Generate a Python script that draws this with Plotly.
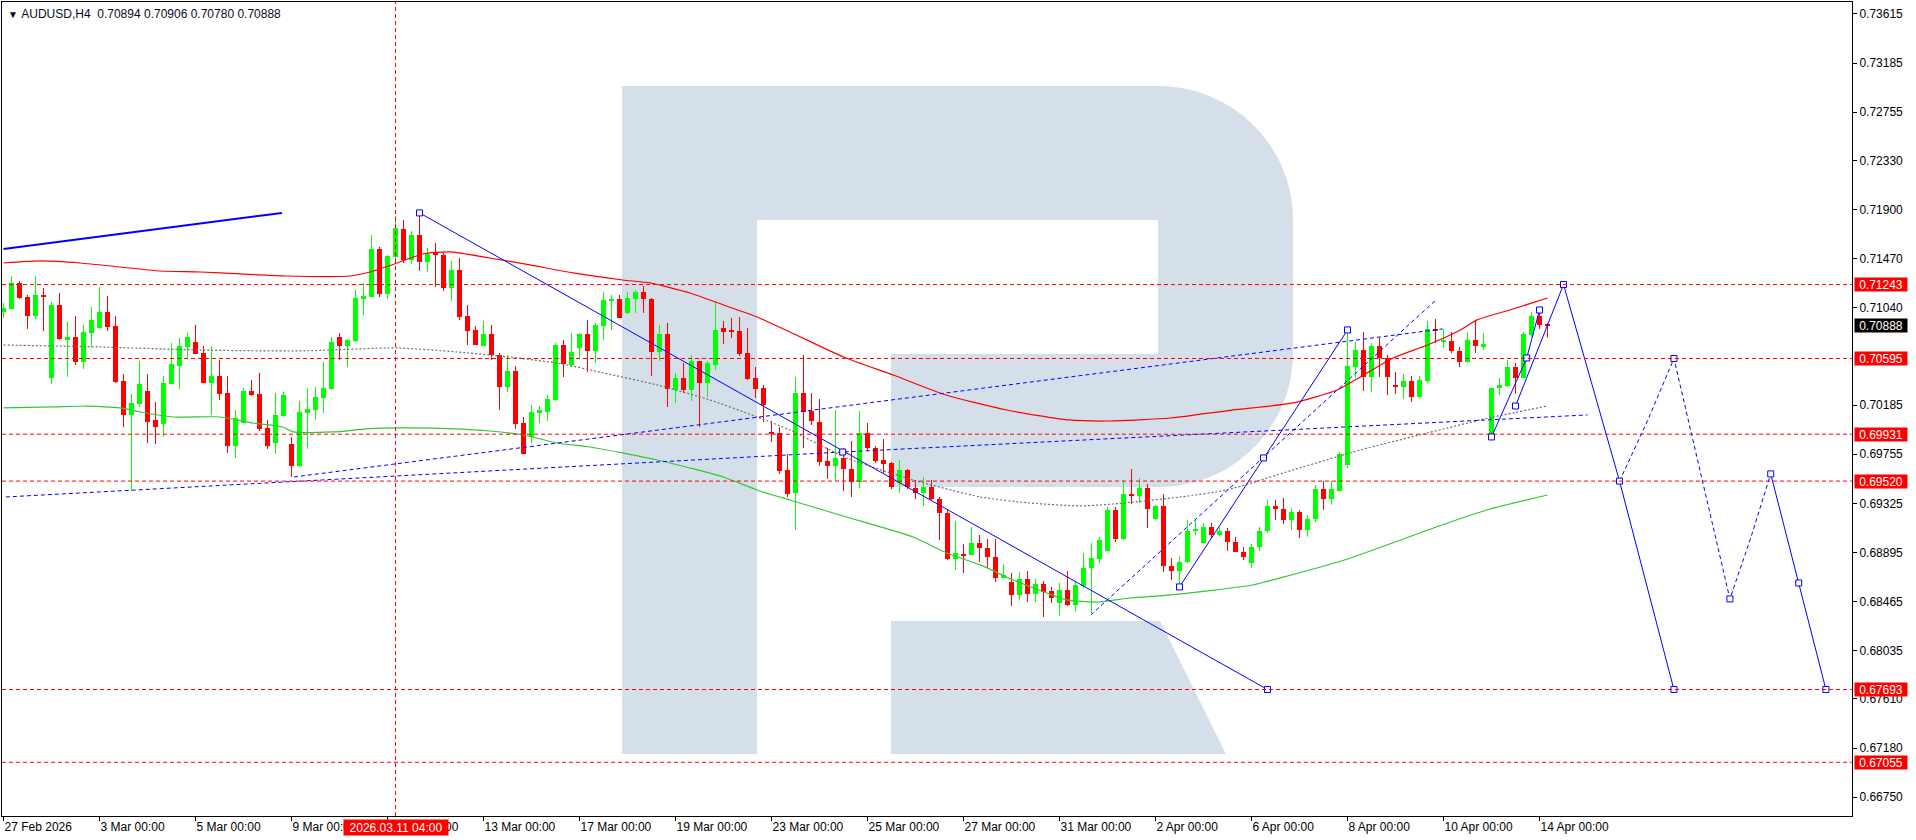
import plotly.graph_objects as go

# ---------------- data ----------------
opens = [0.71003,0.71029,0.71257,0.71134,0.70968,0.71152,0.70424,0.71064,0.70757,0.70783,
0.70564,0.70818,0.70862,0.71003,0.70880,0.70398,0.70100,0.70196,0.70310,0.70056,
0.70021,0.70371,0.70529,0.70696,0.70740,0.70643,0.70380,0.70441,0.70292,0.69828,
0.70029,0.70310,0.70284,0.69986,0.69854,0.70091,0.69845,0.69653,0.70117,0.70143,
0.70249,0.70327,0.70783,0.70704,0.70748,0.71117,0.71134,0.71555,0.71160,0.71485,
0.71730,0.71459,0.71678,0.71441,0.71520,0.71502,0.71213,0.71371,0.70968,0.70845,
0.70704,0.70810,0.70626,0.70345,0.70485,0.70029,0.69907,0.70117,0.70126,0.70231,
0.70713,0.70538,0.70687,0.70810,0.70661,0.70880,0.71099,0.71117,0.70994,0.71117,
0.71178,0.71117,0.70652,0.70810,0.70319,0.70424,0.70319,0.70573,0.70380,0.70538,
0.70862,0.70836,0.70836,0.70643,0.70424,0.70336,0.69951,0.69942,0.69618,0.69416,
0.70292,0.70135,0.70038,0.69696,0.69653,0.69723,0.69626,0.69512,0.69942,0.69810,
0.69705,0.69679,0.69504,0.69618,0.69460,0.69416,0.69469,0.69363,0.69240,0.68837,
0.68881,0.68872,0.68977,0.68934,0.68855,0.68671,0.68636,0.68522,0.68662,0.68530,
0.68618,0.68557,0.68452,0.68566,0.68434,0.68601,0.68758,0.68837,0.68907,0.69267,
0.69013,0.69407,0.69390,0.69460,0.69188,0.69302,0.68776,0.68732,0.68811,0.69083,
0.68977,0.69118,0.69048,0.69083,0.68986,0.68899,0.68802,0.68942,0.69083,0.69302,
0.69275,0.69179,0.69249,0.69091,0.69188,0.69451,0.69363,0.69434,0.69661,0.70520,
0.70669,0.70433,0.70704,0.70599,0.70363,0.70345,0.70398,0.70257,0.70398,0.70854,
0.70740,0.70748,0.70661,0.70564,0.70757,0.70696,0.69924,0.70336,0.70354,0.70520,
0.70424,0.70801,0.70968,0.70894]

highs = [0.71082,0.71318,0.71274,0.71152,0.71318,0.71213,0.71090,0.71169,0.70915,0.70968,
0.70889,0.71046,0.71222,0.71143,0.70968,0.70459,0.70284,0.70573,0.70459,0.70213,
0.70441,0.70731,0.70775,0.70827,0.70889,0.70704,0.70704,0.70582,0.70441,0.70143,
0.70336,0.70406,0.70468,0.70056,0.70292,0.70301,0.69907,0.70222,0.70336,0.70345,
0.70564,0.70783,0.70818,0.70766,0.71196,0.71257,0.71678,0.71573,0.71502,0.71844,
0.71809,0.71713,0.71871,0.71564,0.71608,0.71520,0.71450,0.71476,0.71064,0.70880,
0.70924,0.70889,0.70643,0.70626,0.70529,0.70082,0.70187,0.70178,0.70275,0.70731,
0.70757,0.70818,0.70818,0.70933,0.70906,0.71178,0.71152,0.71152,0.71178,0.71196,
0.71231,0.71125,0.70889,0.70906,0.70468,0.70555,0.70626,0.70573,0.70573,0.71090,
0.70924,0.70950,0.70959,0.70862,0.70520,0.70363,0.70047,0.69994,0.69758,0.70433,
0.70626,0.70292,0.70240,0.69810,0.70143,0.69810,0.69872,0.70135,0.70029,0.69828,
0.69889,0.69688,0.69705,0.69626,0.69512,0.69556,0.69530,0.69381,0.69275,0.69170,
0.68969,0.69118,0.69048,0.69013,0.69013,0.68793,0.68715,0.68723,0.68732,0.68662,
0.68644,0.68592,0.68627,0.68732,0.68636,0.68890,0.68977,0.69030,0.69293,0.69293,
0.69521,0.69626,0.69547,0.69495,0.69311,0.69407,0.68846,0.68864,0.69179,0.69179,
0.69153,0.69153,0.69118,0.69109,0.69030,0.68942,0.68969,0.69118,0.69354,0.69354,
0.69372,0.69284,0.69267,0.69223,0.69486,0.69521,0.69521,0.69775,0.70845,0.70740,
0.70827,0.70731,0.70775,0.70626,0.70476,0.70459,0.70441,0.70441,0.70924,0.70941,
0.70854,0.70827,0.70696,0.70827,0.70924,0.70818,0.70336,0.70424,0.70582,0.70555,
0.70827,0.71003,0.71003,0.70906]

lows = [0.70950,0.71029,0.71117,0.70854,0.70941,0.70836,0.70371,0.70757,0.70433,0.70538,
0.70503,0.70696,0.70862,0.70836,0.70380,0.69994,0.69434,0.70170,0.69854,0.69845,
0.69907,0.70371,0.70327,0.70599,0.70634,0.70380,0.70100,0.70231,0.69767,0.69723,
0.70029,0.70266,0.69959,0.69802,0.69758,0.70082,0.69556,0.69644,0.69802,0.70056,
0.70117,0.70319,0.70582,0.70520,0.70740,0.70976,0.71134,0.71134,0.71117,0.71441,
0.71432,0.71424,0.71362,0.71353,0.71222,0.71187,0.71099,0.70933,0.70713,0.70713,
0.70704,0.70582,0.70143,0.70301,0.69977,0.69758,0.69854,0.70029,0.70047,0.70222,
0.70433,0.70520,0.70590,0.70476,0.70555,0.70757,0.70845,0.70950,0.70985,0.70994,
0.70994,0.70441,0.70573,0.70170,0.70205,0.70292,0.70222,0.69994,0.70257,0.70494,
0.70722,0.70775,0.70617,0.70406,0.70249,0.70038,0.69863,0.69583,0.69381,0.69091,
0.69810,0.70012,0.69653,0.69539,0.69521,0.69434,0.69381,0.69460,0.69784,0.69679,
0.69591,0.69451,0.69416,0.69451,0.69363,0.69302,0.69346,0.69004,0.68828,0.68741,
0.68715,0.68872,0.68811,0.68758,0.68636,0.68662,0.68425,0.68478,0.68460,0.68460,
0.68329,0.68452,0.68338,0.68425,0.68373,0.68583,0.68364,0.68802,0.68907,0.68986,
0.69004,0.69319,0.69328,0.69109,0.69179,0.68723,0.68653,0.68601,0.68802,0.69048,
0.68977,0.69021,0.69039,0.68907,0.68899,0.68828,0.68758,0.68907,0.69065,0.69179,
0.69144,0.69091,0.69021,0.69039,0.69162,0.69267,0.69311,0.69434,0.69635,0.70424,
0.70310,0.70301,0.70433,0.70275,0.70284,0.70240,0.70213,0.70249,0.70380,0.70731,
0.70687,0.70643,0.70520,0.70555,0.70643,0.70669,0.69924,0.70275,0.70345,0.70284,
0.70424,0.70783,0.70854,0.70780]

closes = [0.71038,0.71257,0.71125,0.70968,0.71152,0.71134,0.71064,0.70766,0.70783,0.70564,
0.70827,0.70933,0.71003,0.70871,0.70389,0.70100,0.70205,0.70371,0.70038,0.69994,
0.70380,0.70547,0.70704,0.70783,0.70634,0.70380,0.70441,0.70284,0.69828,0.70073,
0.70310,0.70275,0.69977,0.69828,0.70100,0.70275,0.69653,0.70126,0.70152,0.70257,
0.70336,0.70740,0.70704,0.70757,0.71125,0.71143,0.71555,0.71160,0.71494,0.71739,
0.71459,0.71678,0.71441,0.71511,0.71502,0.71213,0.71371,0.70959,0.70836,0.70713,
0.70810,0.70626,0.70345,0.70485,0.70021,0.69758,0.70126,0.70143,0.70240,0.70713,
0.70547,0.70652,0.70810,0.70661,0.70889,0.71108,0.71117,0.70950,0.71125,0.71178,
0.71117,0.70652,0.70810,0.70327,0.70424,0.70319,0.70573,0.70380,0.70555,0.70845,
0.70827,0.70827,0.70634,0.70415,0.70327,0.70187,0.69933,0.69609,0.69407,0.70292,
0.70126,0.70047,0.69688,0.69653,0.69723,0.69626,0.69512,0.69942,0.69810,0.69696,
0.69670,0.69469,0.69618,0.69469,0.69416,0.69469,0.69363,0.69240,0.68837,0.68890,
0.68872,0.68977,0.68934,0.68855,0.68671,0.68697,0.68522,0.68662,0.68530,0.68618,
0.68548,0.68495,0.68566,0.68434,0.68609,0.68758,0.68846,0.69004,0.69267,0.69013,
0.69407,0.69398,0.69460,0.69275,0.69302,0.68776,0.68732,0.68811,0.69083,0.69100,
0.69118,0.69048,0.69083,0.68986,0.68899,0.68855,0.68942,0.69083,0.69302,0.69275,
0.69179,0.69249,0.69091,0.69188,0.69451,0.69363,0.69451,0.69758,0.70529,0.70669,
0.70433,0.70704,0.70599,0.70433,0.70345,0.70398,0.70257,0.70406,0.70854,0.70836,
0.70748,0.70661,0.70564,0.70757,0.70704,0.70722,0.70336,0.70363,0.70520,0.70424,
0.70810,0.70968,0.70889,0.70888]

# moving averages (sampled along the drawn curves: bar index, price)
red_ma_x = [0, 4.6, 9.6, 14.6, 19.6, 24.6, 29.6, 35.4, 43.3, 45.8, 49.2, 52.4, 55.8, 60.8, 65.8, 71.2,
            77.4, 80.8, 85.8, 90, 94.2, 98.3, 105, 111.2, 117.8, 125.4, 133.2, 138.2, 145.9, 153.6,
            161.2, 166.7, 169.6, 173.7, 178, 182.1, 184.2, 188.3, 193]
red_ma_y = [0.71432, 0.71450, 0.71432, 0.71397, 0.71362, 0.71353, 0.71336, 0.71318, 0.71318, 0.71353,
            0.71432, 0.71511, 0.71529, 0.71476, 0.71415, 0.71345, 0.71283, 0.71257, 0.71169, 0.71064,
            0.70959, 0.70827, 0.70608, 0.70450, 0.70275, 0.70143, 0.70056, 0.70047, 0.70073, 0.70143,
            0.70205, 0.70319, 0.70433, 0.70599, 0.70713, 0.70845, 0.70933, 0.71020, 0.71125]
gray_ma_x = [0, 12, 24.6, 37, 49.2, 56.7, 62, 69.2, 75, 81.7, 88.3, 94.2, 98.3, 105.4, 113.7, 122.1,
             128.3, 134.6, 138.7, 147.1, 152.9, 161.2, 169.6, 178, 186.2, 193]
gray_ma_y = [0.70713, 0.70696, 0.70669, 0.70661, 0.70687, 0.70652, 0.70617, 0.70555, 0.70468, 0.70363,
             0.70231, 0.70082, 0.69968, 0.69723, 0.69530, 0.69381, 0.69328, 0.69302, 0.69319, 0.69381,
             0.69442, 0.69618, 0.69793, 0.69942, 0.70082, 0.70178]
green_ma_x = [0, 6.2, 10.4, 14.6, 17.1, 21.2, 27.1, 31.2, 34.9, 36.2, 41.2, 45.4, 49.6, 56.7, 60.8, 65,
              69.2, 73.3, 77.4, 81.7, 85.8, 90, 94.2, 98.3, 105.4, 113.7, 117.9, 122.1, 126.2, 130.4,
              132.9, 136.7, 140.8, 145.9, 156.1, 159.6, 167.6, 179.8, 185.8, 193]
green_ma_y = [0.70161, 0.70170, 0.70178, 0.70161, 0.70126, 0.70082, 0.70082, 0.70029, 0.69994, 0.69951,
              0.69951, 0.69977, 0.69986, 0.69977, 0.69959, 0.69924, 0.69854, 0.69819, 0.69767, 0.69705,
              0.69635, 0.69556, 0.69442, 0.69354, 0.69205, 0.69030, 0.68890, 0.68785, 0.68653, 0.68539,
              0.68478, 0.68460, 0.68495, 0.68522, 0.68609, 0.68671, 0.68828, 0.69135, 0.69275, 0.69398]

# horizontal levels
level_prices = [0.71243, 0.70595, 0.69931, 0.69520, 0.67693, 0.67055]
last_price = 0.70888
cross_bar = 49
cross_label = "2026.03.11 04:00"

# drawn objects (bar index, price)
tl_top_x = [0, 34.8];               tl_top_y = [0.71555, 0.71871]
tl_down_x = [52, 158];              tl_down_y = [0.71871, 0.67693]
dot1_x = [0.3, 104.9, 198];         dot1_y = [0.69381, 0.69775, 0.70100]
dot2_x = [36.3, 179.9];             dot2_y = [0.69556, 0.70854]
dash_up_x = [135.9, 179.2];         dash_up_y = [0.68346, 0.71117]
solid_up_x = [147, 157.5, 168];     solid_up_y = [0.68592, 0.69723, 0.70845]
line_a_x = [186, 190.4, 192];       line_a_y = [0.69907, 0.70599, 0.71020]
line_b_x = [189, 195];              line_b_y = [0.70178, 0.71243]
fc1_x = [195, 202, 208.8];          fc1_y = [0.71243, 0.69520, 0.67693]
fc_dash_x = [202, 205.6, 208.8, 215.8, 218.4, 220.9]
fc_dash_y = [0.69520, 0.70065, 0.70595, 0.68487, 0.69021, 0.69583]
fc2_x = [220.9, 224.4, 227.8];      fc2_y = [0.69583, 0.68627, 0.67693]
sq_x = [52, 158, 104.9, 147, 157.5, 168, 186, 190.4, 192, 189, 195, 202, 208.8, 208.8, 215.8, 220.9, 224.4, 227.8]
sq_y = [0.71871, 0.67693, 0.69775, 0.68592, 0.69723, 0.70845, 0.69907, 0.70599, 0.71020, 0.70178,
        0.71243, 0.69520, 0.67693, 0.70595, 0.68487, 0.69583, 0.68627, 0.67693]

# axes
x_tick_bars = [0, 12, 24, 36, 48, 60, 72, 84, 96, 108, 120, 132, 144, 156, 168, 180, 192]
x_tick_labels = ["27 Feb 2026", "3 Mar 00:00", "5 Mar 00:00", "9 Mar 00:00", "11 Mar 00:00",
                 "13 Mar 00:00", "17 Mar 00:00", "19 Mar 00:00", "23 Mar 00:00", "25 Mar 00:00",
                 "27 Mar 00:00", "31 Mar 00:00", "2 Apr 00:00", "6 Apr 00:00", "8 Apr 00:00",
                 "10 Apr 00:00", "14 Apr 00:00"]
y_ticks = [0.73615, 0.73185, 0.72755, 0.72330, 0.71900, 0.71470, 0.71040, 0.70185, 0.69755,
           0.69325, 0.68895, 0.68465, 0.68035, 0.67610, 0.67180, 0.66750]
title_text = "AUDUSD,H4&nbsp;&nbsp;0.70894 0.70906 0.70780 0.70888"

# ---------------- styles ----------------
BULL = "#00FF00"
BEAR = "#FF0000"
BLUE = "#0000FF"
FONT = "Liberation Sans, Arial, sans-serif"
X_RANGE = [-0.19, 231.06]
Y_RANGE = [0.66584, 0.73720]
DASH = "4px,3px"

fig = go.Figure()

# ---- watermark "R" logo (plot-area pixel geometry -> paper) ----
PL, PT, PW, PH = 2, 2, 1850, 814
def P(x, y):
    return f"{(x - PL) / PW:.5f},{(PT + PH - y) / PH:.5f}"
r_path = ("M" + P(622, 86) + " L" + P(1158, 86) +
          " C" + P(1233, 86) + " " + P(1293, 146) + " " + P(1293, 220) +
          " L" + P(1293, 353) +
          " C" + P(1293, 427) + " " + P(1233, 487) + " " + P(1160, 487) +
          " L" + P(891, 487) + " L" + P(891, 354) + " L" + P(1158, 354) +
          " L" + P(1158, 220) + " L" + P(757, 220) + " L" + P(757, 754) +
          " L" + P(622, 754) + " Z")
leg_path = "M" + P(891, 621) + " L" + P(1160, 621) + " L" + P(1226, 754) + " L" + P(891, 754) + " Z"
shapes = []
for pth in (r_path, leg_path):
    shapes.append(dict(type="path", path=pth, xref="paper", yref="paper",
                       fillcolor="#D5DFEA", line=dict(width=0), layer="below"))

# ---- candles ----
n = len(opens)
bull = [i for i in range(n) if closes[i] >= opens[i]]
bear = [i for i in range(n) if closes[i] < opens[i]]

def wicks(idx):
    xs, ys = [], []
    for i in idx:
        xs += [i, i, None]
        ys += [lows[i], highs[i], None]
    return xs, ys

for idx, col in ((bull, BULL), (bear, BEAR)):
    wx, wy = wicks(idx)
    fig.add_trace(go.Scatter(x=wx, y=wy, mode="lines", line=dict(color=col, width=1),
                             hoverinfo="skip"))
    fig.add_trace(go.Bar(x=idx,
                         base=[min(opens[i], closes[i]) for i in idx],
                         y=[max(abs(closes[i] - opens[i]), 0.00009) for i in idx],
                         width=0.62, marker=dict(color=col, line=dict(width=0)),
                         hoverinfo="skip"))

# ---- moving averages ----
fig.add_trace(go.Scatter(x=red_ma_x, y=red_ma_y, mode="lines",
                         line=dict(color="#FF0000", width=1.2, shape="spline", smoothing=0.6)))
fig.add_trace(go.Scatter(x=gray_ma_x, y=gray_ma_y, mode="lines",
                         line=dict(color="#6E6E6E", width=1.2, dash="2px,2px", shape="spline", smoothing=0.6)))
fig.add_trace(go.Scatter(x=green_ma_x, y=green_ma_y, mode="lines",
                         line=dict(color="#36C536", width=1.2, shape="spline", smoothing=0.6)))

# ---- drawn blue objects ----
def bline(x, y, width=1, dash=None):
    fig.add_trace(go.Scatter(x=x, y=y, mode="lines",
                             line=dict(color=BLUE, width=width, dash=dash), hoverinfo="skip"))

bline(tl_top_x, tl_top_y, width=2)
bline(tl_down_x, tl_down_y)
bline(dot1_x, dot1_y, dash=DASH)
bline(dot2_x, dot2_y, dash=DASH)
bline(dash_up_x, dash_up_y, dash=DASH)
bline(solid_up_x, solid_up_y)
bline(line_a_x, line_a_y)
bline(line_b_x, line_b_y)
bline(fc1_x, fc1_y)
bline(fc_dash_x, fc_dash_y, dash=DASH)
bline(fc2_x, fc2_y)
fig.add_trace(go.Scatter(x=sq_x, y=sq_y, mode="markers",
                         marker=dict(symbol="square", size=6, color="white",
                                     line=dict(color=BLUE, width=1)), hoverinfo="skip"))

# ---- levels and crosshair ----
for lv in level_prices:
    shapes.append(dict(type="line", xref="paper", x0=0, x1=1, yref="y", y0=lv, y1=lv,
                       line=dict(color="#FF0000", width=1, dash=DASH)))
shapes.append(dict(type="line", xref="x", x0=cross_bar, x1=cross_bar, yref="paper", y0=0, y1=1,
                   line=dict(color="#FF0000", width=1, dash=DASH)))

annotations = []
for lv in level_prices:
    annotations.append(dict(x=1, xref="paper", xanchor="left", xshift=2, y=lv, yref="y",
                            yanchor="middle", text=f"{lv:.5f}", showarrow=False,
                            bgcolor="#FF0000", font=dict(color="white", size=12, family=FONT),
                            width=52, height=13, borderpad=0, align="center"))
annotations.append(dict(x=1, xref="paper", xanchor="left", xshift=2, y=last_price, yref="y",
                        yanchor="middle", text=f"{last_price:.5f}", showarrow=False,
                        bgcolor="#000000", font=dict(color="white", size=12, family=FONT),
                        width=52, height=13, borderpad=0, align="center"))
annotations.append(dict(x=cross_bar, xref="x", xanchor="center", y=0, yref="paper",
                        yanchor="top", yshift=-3, text=cross_label, showarrow=False,
                        bgcolor="#FF0000", font=dict(color="white", size=12, family=FONT),
                        width=104, height=15, borderpad=0, align="center"))
annotations.append(dict(x=0, xref="paper", xanchor="left", xshift=4, y=1, yref="paper",
                        yanchor="top", yshift=-3, showarrow=False,
                        text="<span style='font-size:10px'>▼</span>&nbsp;" + title_text,
                        font=dict(color="#0A0A1E", size=12, family=FONT)))

fig.update_layout(
    width=1916, height=840,
    margin=dict(l=2, r=64, t=2, b=24),
    paper_bgcolor="white", plot_bgcolor="white",
    showlegend=False, barmode="overlay", bargap=0,
    font=dict(family=FONT, size=12, color="black"),
    shapes=shapes, annotations=annotations,
    xaxis=dict(range=X_RANGE, showgrid=False, zeroline=False, showline=True,
               linecolor="black", linewidth=1, mirror=True,
               tickmode="array", tickvals=x_tick_bars, ticktext=x_tick_labels,
               ticks="outside", ticklen=4, tickcolor="black",
               ticklabelposition="outside right", tickfont=dict(size=12, family=FONT)),
    yaxis=dict(range=Y_RANGE, side="right", showgrid=False, zeroline=False, showline=True,
               linecolor="black", linewidth=1, mirror=True,
               tickmode="array", tickvals=y_ticks, ticktext=[f"{v:.5f}" for v in y_ticks],
               ticks="outside", ticklen=4, tickcolor="black", tickfont=dict(size=12, family=FONT)),
)

fig.write_html("out.html", config={"displayModeBar": False},
               post_script="document.body.style.margin='0';document.body.style.overflow='hidden';")
